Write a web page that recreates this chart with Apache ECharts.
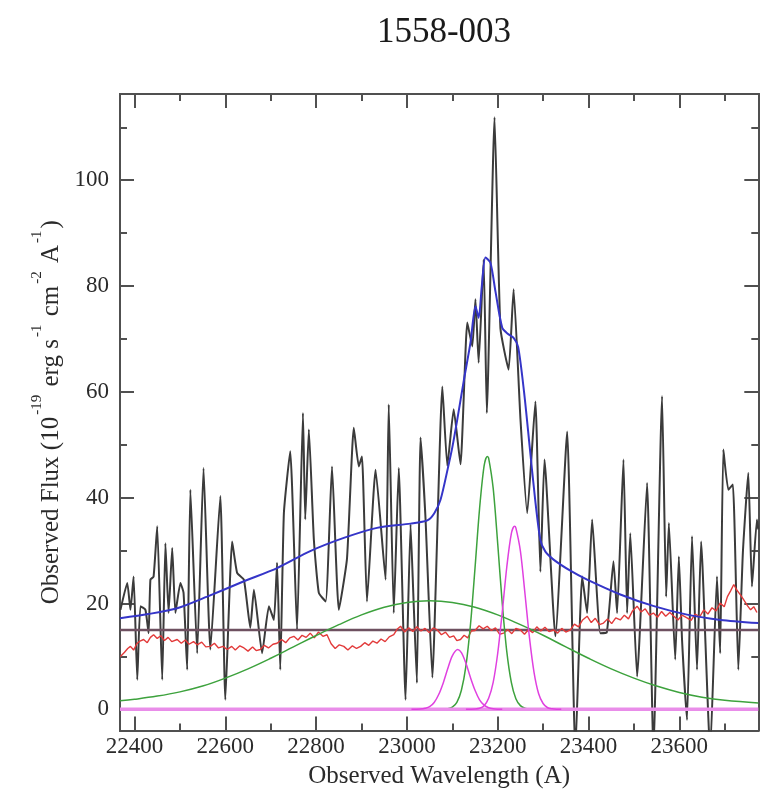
<!DOCTYPE html>
<html><head><meta charset="utf-8">
<script src="https://cdn.jsdelivr.net/npm/echarts@6/dist/echarts.min.js"></script>
<style>html,body{margin:0;padding:0;background:#fff}#c{width:775px;height:795px}</style>
</head><body><div id="c"></div>
<script>
// ---- data ----
const chartTitle = '1558-003';
const xName = 'Observed Wavelength (A)';
const xMin = 22368, xMax = 23774;
const yMin = -4, yMax = 116.3;
const xMajorTicks = [22400, 22600, 22800, 23000, 23200, 23400, 23600];
const xMinorTicks = [22500, 22700, 22900, 23100, 23300, 23500, 23700];
const yMajorTicks = [0, 20, 40, 60, 80, 100];
const yMinorTicks = [10, 30, 50, 70, 90, 110];
const continuumLevel = 15.0;
const baselineLevel = 0;

// observed spectrum [wavelength, flux]
const spectrum = [
[22369,18.8],[22384,23.9],[22391,18.8],[22398,25.1],[22406,5.6],[22413,19.5],[22424,18.8],[22431,14.4],
[22435,24.5],[22442,25.1],[22450,34.6],[22461,5.6],[22468,31.4],[22475,18.2],[22483,30.5],[22490,18.2],
[22501,23.9],[22508,22.0],[22516,7.5],[22523,41.5],[22538,10.6],[22552,45.6],[22567,11.3],[22589,40.3],
[22600,1.8],[22615,31.7],[22626,25.8],[22641,24.5],[22655,15.4],[22663,22.6],[22681,10.6],[22696,19.5],
[22707,16.9],[22714,27.7],[22721,7.5],[22729,37.1],[22743,48.8],[22758,15.0],[22771,56.0],[22776,35.9],
[22784,52.9],[22795,32.1],[22806,22.0],[22821,20.4],[22835,45.9],[22850,18.8],[22868,28.5],[22883,53.2],
[22894,45.9],[22901,47.8],[22912,20.4],[22931,45.3],[22953,24.5],[22960,57.6],[22971,18.2],[22982,45.6],
[22997,1.8],[23008,35.0],[23014,22.0],[23022,5.0],[23030,51.4],[23041,36.0],[23056,6.0],[23078,61.0],
[23089,46.0],[23103,56.7],[23118,46.3],[23133,73.1],[23144,68.6],[23151,77.5],[23158,65.5],[23169,85.0],
[23176,56.0],[23193,111.9],[23206,72.0],[23224,64.2],[23235,79.4],[23250,55.0],[23265,37.1],[23283,58.2],
[23294,26.0],[23303,47.2],[23327,13.8],[23353,52.5],[23371,-8],[23386,25.1],[23397,18.2],[23408,35.9],
[23426,14.4],[23440,14.5],[23455,28.0],[23463,18.2],[23477,47.2],[23485,18.2],[23492,33.3],[23507,6.2],
[23529,42.8],[23543,-8],[23562,59.2],[23571,21.3],[23577,35.2],[23591,9.4],[23599,28.9],[23606,13.2],
[23617,-2.0],[23628,32.7],[23639,7.5],[23648,31.7],[23668,-8],[23683,25.1],[23690,10.6],[23697,49.1],
[23708,41.5],[23718,42.5],[23730,7.5],[23740,29.6],[23752,44.7],[23760,23.2],[23771,35.9],[23774,34.0]
];

// error spectrum (red)
const noise = [
[22369,10.0],[22378,10.8],[22385,11.5],[22391,11.9],[22398,11.2],[22405,12.4],[22412,12.9],[22420,13.2],
[22428,12.6],[22435,13.6],[22442,14.1],[22450,13.4],[22458,13.9],[22466,13.0],[22474,13.6],[22482,12.8],
[22494,13.2],[22503,12.5],[22512,13.1],[22520,12.3],[22530,12.8],[22538,12.2],[22548,12.7],[22557,11.8],
[22567,11.9],[22576,12.5],[22585,11.6],[22595,11.9],[22604,11.3],[22614,11.9],[22622,11.2],[22632,12.0],
[22641,11.6],[22650,11.0],[22660,11.8],[22668,11.1],[22677,11.3],[22686,12.1],[22695,11.6],[22705,12.3],
[22714,12.5],[22724,13.2],[22733,12.6],[22742,13.5],[22751,13.8],[22760,13.1],[22769,14.0],[22778,13.6],
[22787,14.4],[22796,13.5],[22805,14.6],[22815,13.8],[22824,14.1],[22833,12.4],[22842,11.5],[22851,12.2],
[22861,11.9],[22870,11.2],[22880,12.0],[22889,11.5],[22898,11.9],[22907,12.6],[22916,12.1],[22925,12.9],
[22934,12.5],[22943,13.3],[22952,12.8],[22961,13.7],[22971,14.1],[22979,15.2],[22986,15.7],[22995,14.6],
[23004,15.4],[23013,14.7],[23022,15.6],[23031,14.8],[23040,15.3],[23049,14.5],[23058,15.4],[23067,15.0],
[23076,14.1],[23085,14.6],[23094,13.6],[23103,13.9],[23110,13.0],[23118,13.2],[23126,14.0],[23134,13.5],
[23142,14.8],[23150,14.9],[23159,15.8],[23168,15.2],[23177,15.7],[23186,14.9],[23195,15.4],[23204,14.2],
[23213,14.4],[23222,15.1],[23231,14.3],[23240,15.3],[23250,15.0],[23259,14.2],[23268,15.1],[23277,14.5],
[23286,15.6],[23295,14.8],[23304,15.5],[23313,14.7],[23323,15.0],[23332,14.4],[23341,15.3],[23350,14.6],
[23360,15.0],[23369,16.1],[23378,15.6],[23387,16.9],[23397,17.6],[23406,16.4],[23415,17.2],[23424,16.0],
[23433,16.3],[23442,17.1],[23451,16.2],[23460,17.3],[23470,16.9],[23479,17.8],[23488,17.1],[23497,18.6],
[23507,19.5],[23516,18.4],[23525,19.0],[23534,17.8],[23543,18.2],[23552,17.4],[23561,18.5],[23570,17.6],
[23579,18.3],[23588,17.6],[23597,16.9],[23606,17.8],[23617,17.3],[23626,16.8],[23635,18.0],[23645,17.5],
[23654,18.8],[23663,18.0],[23672,19.2],[23681,18.6],[23690,20.1],[23699,19.4],[23706,21.3],[23713,22.4],
[23720,23.6],[23727,22.5],[23735,21.6],[23742,20.7],[23750,19.6],[23757,18.8],[23764,19.4],[23771,18.3]
];

// total fit (blue)
const totalFit = [
[22368,17.2],[22430,18.0],[22494,19.1],[22560,21.3],[22641,24.2],[22714,26.7],[22787,29.9],[22861,32.4],
[22934,34.3],[23008,35.1],[23045,35.7],[23060,37.0],[23074,39.6],[23090,45.5],[23100,49.5],[23111,54.8],
[23125,62.0],[23140,69.3],[23151,76.2],[23158,74.0],[23165,80.0],[23173,85.4],[23184,84.4],[23195,79.0],
[23210,72.1],[23222,71.0],[23235,70.2],[23245,68.5],[23258,60.0],[23270,50.0],[23282,40.0],[23294,32.0],
[23305,29.8],[23323,28.3],[23360,26.2],[23397,24.5],[23470,21.7],[23544,19.5],[23617,17.9],[23691,16.9],
[23774,16.3]
];

// broad component (green)
const broadComp = [
[22368,1.6],[22400,1.9],[22450,2.5],[22500,3.3],[22550,4.4],[22600,5.9],[22650,7.65],[22700,9.65],
[22750,11.8],[22800,13.95],[22850,16.0],[22900,17.85],[22950,19.3],[23000,20.2],[23050,20.5],[23100,20.2],
[23150,19.3],[23200,17.85],[23250,16.0],[23300,14.0],[23350,11.8],[23400,9.65],[23450,7.65],[23500,5.9],
[23550,4.4],[23600,3.2],[23650,2.3],[23700,1.7],[23774,1.2]
];

// narrow component (green)
const narrowComp = [
[23060,0],[23080,0.03],[23090,0.1],[23100,0.4],[23110,1.3],[23120,3.6],[23130,8.2],[23140,16.0],
[23150,26.7],[23160,37.9],[23170,46.0],[23177,47.8],[23180,47.5],[23190,41.8],[23200,31.3],[23210,20.0],
[23220,10.9],[23230,5.1],[23240,2.0],[23250,0.7],[23260,0.2],[23270,0.05],[23290,0]
];

// magenta components
const lineComp1 = [
[23010,0],[23020,0.01],[23030,0.05],[23040,0.2],[23050,0.5],[23060,1.3],[23070,2.8],[23080,5.0],
[23090,7.7],[23100,10.1],[23112,11.3],[23120,10.7],[23130,8.7],[23140,6.0],[23150,3.6],[23160,1.8],
[23170,0.8],[23180,0.3],[23190,0.1],[23200,0.02],[23210,0]
];
const lineComp2 = [
[23130,0],[23140,0.01],[23150,0.05],[23160,0.2],[23170,0.7],[23180,2.1],[23190,5.1],[23200,10.6],
[23210,18.4],[23220,26.9],[23230,33.2],[23237,34.6],[23240,34.3],[23250,29.9],[23260,21.9],[23270,13.5],
[23280,7.0],[23290,3.0],[23300,1.1],[23310,0.3],[23320,0.1],[23330,0.02],[23340,0]
];

// ---- chart ----
const serif = 'Liberation Serif, Times New Roman, serif';
const frame = '#505050';
const chart = echarts.init(document.getElementById('c'), null, {renderer: 'canvas'});
const plainNum = v => String(Math.round(v));

function xAx(pos, ticks, len, labels, name) {
  return {
    type: 'value', position: pos, min: xMin, max: xMax,
    axisLine: {show: true, onZero: false, lineStyle: {color: frame, width: 2}},
    axisTick: {show: true, inside: true, length: len, customValues: ticks, lineStyle: {color: frame, width: 2}},
    axisLabel: labels ? {show: true, customValues: ticks, formatter: plainNum, margin: 5, color: '#2a2a2a', fontFamily: serif, fontSize: 23} : {show: false},
    splitLine: {show: false},
    name: name || '', nameLocation: 'middle', nameGap: 33,
    nameTextStyle: {fontFamily: serif, fontSize: 25, color: '#2a2a2a'}
  };
}
function yAx(pos, ticks, len, labels, withName) {
  const a = {
    type: 'value', position: pos, min: yMin, max: yMax,
    axisLine: {show: true, onZero: false, lineStyle: {color: frame, width: 2}},
    axisTick: {show: true, inside: true, length: len, customValues: ticks, lineStyle: {color: frame, width: 2}},
    axisLabel: labels ? {show: true, customValues: ticks, formatter: plainNum, margin: 11, color: '#2a2a2a', fontFamily: serif, fontSize: 23} : {show: false},
    splitLine: {show: false}
  };
  if (withName) {
    a.name = '{m|Observed Flux (10}{s|-19}{m| erg s}{s|-1}{m| cm}{s|-2}{m| A}{s|-1}{m|)}';
    a.nameLocation = 'middle';
    a.nameRotate = 90;
    a.nameGap = 56;
    a.nameTextStyle = {
      rich: {
        m: {fontFamily: serif, fontSize: 25, color: '#2a2a2a', lineHeight: 34, verticalAlign: 'bottom'},
        s: {fontFamily: serif, fontSize: 15, color: '#2a2a2a', lineHeight: 34, verticalAlign: 'top', padding: [0, 2, 0, 2]}
      }
    };
  }
  return a;
}

function lineSeries(name, data, color, width, smooth, z) {
  return {
    name, type: 'line', data, xAxisIndex: 0, yAxisIndex: 0, showSymbol: false, symbol: 'none',
    smooth: smooth, clip: true, z: z,
    lineStyle: {color, width}
  };
}

const option = {
  animation: false,
  backgroundColor: '#ffffff',
  title: {text: chartTitle, left: 439, top: 10, textAlign: 'center',
    textStyle: {fontFamily: serif, fontSize: 35, fontWeight: 'normal', color: '#1a1a1a'}},
  grid: {left: 120, right: 16.7, top: 94, bottom: 64.5, containLabel: false},
  xAxis: [
    xAx('bottom', xMajorTicks, 14, true, xName),
    xAx('bottom', xMinorTicks, 7, false),
    xAx('top', xMajorTicks, 14, false),
    xAx('top', xMinorTicks, 7, false)
  ],
  yAxis: [
    yAx('left', yMajorTicks, 14, true, true),
    yAx('left', yMinorTicks, 7, false),
    yAx('right', yMajorTicks, 14, false),
    yAx('right', yMinorTicks, 7, false)
  ],
  series: [
    lineSeries('spectrum', spectrum, '#3b3b3b', 2, 0.15, 2),
    lineSeries('continuum', [[xMin, continuumLevel], [xMax, continuumLevel]], '#6e5060', 2.5, false, 3),
    lineSeries('noise', noise, '#e23a3a', 1.4, false, 4),
    lineSeries('narrow', narrowComp, '#3da23d', 1.5, 0.3, 5),
    lineSeries('baseline', [[xMin, baselineLevel], [xMax, baselineLevel]], '#e98de9', 3.5, false, 6),
    lineSeries('broad', broadComp, '#3da23d', 1.5, 0.4, 7),
    lineSeries('comp1', lineComp1, '#e040e0', 1.5, 0.3, 8),
    lineSeries('comp2', lineComp2, '#e040e0', 1.5, 0.3, 8),
    lineSeries('total', totalFit, '#3535c8', 2, 0.25, 9)
  ]
};
chart.setOption(option);
</script>
</body></html>
